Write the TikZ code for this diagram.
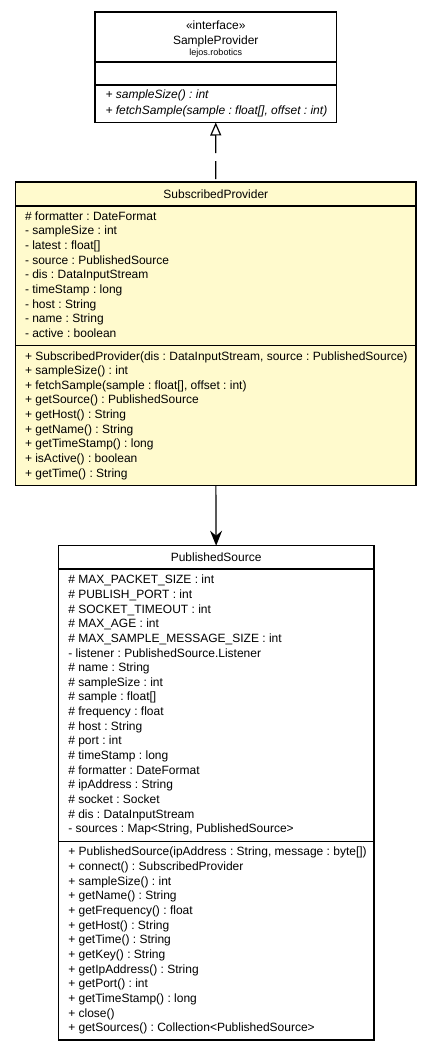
\documentclass[tikz,border=0pt]{standalone}
\usepackage{fontspec}
\setmainfont{Liberation Sans}
\usetikzlibrary{positioning,arrows.meta}
\definecolor{classfill}{HTML}{FFFACD}
\frenchspacing
% member lines, left aligned in a box of fixed width, never broken
\newcommand{\memberlist}[2]{\makebox[#1][l]{\begin{tabular}{@{}l@{}}#2\end{tabular}}}

\begin{document}
\begin{tikzpicture}[x = 1pt,y = 1pt,
        every node/.style = {draw = black,line width = 1.1pt,inner ysep = 0pt,outer sep = 0pt,
            font = \fontsize{12}{14.65}\selectfont},
        classhead/.style 2 args = {minimum width = #1,minimum height = #2,align = center,anchor = north},
        members/.style 2 args = {inner xsep = #1,minimum height = #2},
        link/.style = {line width = 1.2pt}
    ]
        \useasboundingbox (0,0) rectangle (432,-1051);

        % interface
        \node [classhead = {241.5pt}{50pt}] (spHead) at (215.75,-12)
            {\rule{0pt}{13pt}«interface»\\SampleProvider\\[-4pt]{\fontsize{9}{11}\selectfont lejos.robotics}};
        \node [members = {10.5pt}{23pt},below = 0pt of spHead] (spAttr) {\memberlist{220.5pt}{}};
        \node [members = {10.5pt}{37.5pt},below = 0pt of spAttr,
            font = \fontsize{12}{16}\selectfont\itshape] (spOps)
            {\memberlist{220.5pt}{+ sampleSize() : int\\
             + fetchSample(sample : float[], offset : int)}};

        % subscribed provider
        \node [classhead = {400.3pt}{24pt},fill = classfill] (subHead) at (215.85,-182) {SubscribedProvider};
        \node [members = {9.3pt}{139.7pt},fill = classfill,below = 0pt of subHead] (subAttr)
            {\memberlist{381.7pt}{\# formatter : DateFormat\\
             - sampleSize : int\\
             - latest : float[]\\
             - source : PublishedSource\\
             - dis : DataInputStream\\
             - timeStamp : long\\
             - host : String\\
             - name : String\\
             - active : boolean}};
        \node [members = {9.3pt}{140pt},fill = classfill,below = 0pt of subAttr] (subOps)
            {\memberlist{381.7pt}{+ SubscribedProvider(dis : DataInputStream, source : PublishedSource)\\
             + sampleSize() : int\\
             + fetchSample(sample : float[], offset : int)\\
             + getSource() : PublishedSource\\
             + getHost() : String\\
             + getName() : String\\
             + getTimeStamp() : long\\
             + isActive() : boolean\\
             + getTime() : String}};

        % published source
        \node [classhead = {315.7pt}{23.3pt}] (pubHead) at (216.15,-545.7) {PublishedSource};
        \node [members = {10pt}{272.7pt},below = 0pt of pubHead] (pubAttr)
            {\memberlist{295.7pt}{\# MAX\_PACKET\_SIZE : int\\
             \# PUBLISH\_PORT : int\\
             \# SOCKET\_TIMEOUT : int\\
             \# MAX\_AGE : int\\
             \# MAX\_SAMPLE\_MESSAGE\_SIZE : int\\
             - listener : PublishedSource.Listener\\
             \# name : String\\
             \# sampleSize : int\\
             \# sample : float[]\\
             \# frequency : float\\
             \# host : String\\
             \# port : int\\
             \# timeStamp : long\\
             \# formatter : DateFormat\\
             \# ipAddress : String\\
             \# socket : Socket\\
             \# dis : DataInputStream\\
             - sources : Map<String, PublishedSource>}};
        \node [members = {10pt}{198.3pt},below = 0pt of pubAttr] (pubOps)
            {\memberlist{295.7pt}{+ PublishedSource(ipAddress : String, message : byte[])\\
             + connect() : SubscribedProvider\\
             + sampleSize() : int\\
             + getName() : String\\
             + getFrequency() : float\\
             + getHost() : String\\
             + getTime() : String\\
             + getKey() : String\\
             + getIpAddress() : String\\
             + getPort() : int\\
             + getTimeStamp() : long\\
             + close()\\
             + getSources() : Collection<PublishedSource>}};

        % connectors
        \draw [link,dash pattern = on 18pt off 8pt,{Triangle[open,length = 13pt,width = 11pt]}-]
            (spOps.south) -- (subHead.north);
        \draw [link,-{Stealth[length = 15pt,width = 12pt,inset = 5pt]}] (subOps.south) -- (pubHead.north);
    \end{tikzpicture}
\end{document}
